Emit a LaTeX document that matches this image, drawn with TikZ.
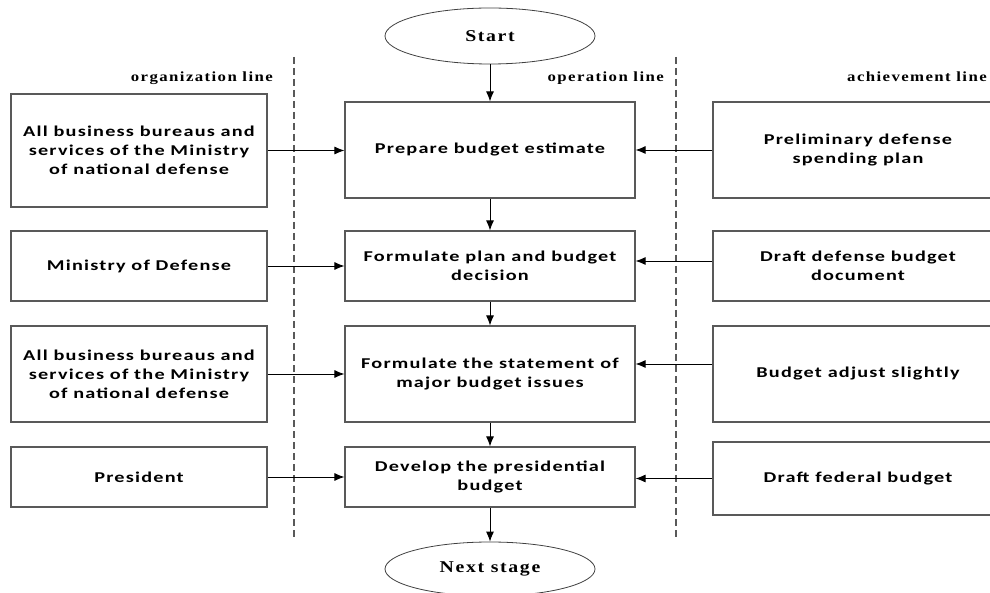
\documentclass[tikz,border=0pt]{standalone}
\usepackage{fontspec}
\newfontfamily\boxfont{Carlito}[FakeStretch=1.35,LetterSpace=8]
\newfontfamily\lanefont{Liberation Serif}[FakeStretch=1.2,LetterSpace=10]
\usetikzlibrary{shapes.geometric,arrows.meta}
\tikzset{
  box/.style={draw=black!65, line width=1.2pt, align=center, inner sep=0pt,
    font={\boxfont\bfseries\fontsize{15}{19}\selectfont}},
  term/.style={ellipse, draw=black!75, line width=0.8pt, inner sep=0pt,
    minimum width=210pt, font={\lanefont\bfseries\fontsize{16.5}{19}\selectfont}},
  lane/.style={inner sep=0pt, font={\lanefont\bfseries\fontsize{14}{16}\selectfont}},
  divider/.style={draw=black!65, line width=1.2pt, dash pattern=on 7pt off 4pt},
  flow/.style={-{Latex[length=10pt,width=8pt]}, line width=0.9pt}
}
\begin{document}
\begin{tikzpicture}[x=1pt,y=-1pt]
     \clip (0,0) rectangle (990,593);
     \node[term,minimum height=56pt] (start) at (490,36){Start};
     \node[term,minimum height=54pt] (next) at (490,569){Next stage};
     \node[lane,anchor=base east] (orgline) at (273,82){organization line};
     \node[lane,anchor=base east] (opline) at (664,82){operation line};
     \node[lane,anchor=base west] (achline) at (847,82){achievement line};
     \coordinate (divLtop) at (294,57);
     \coordinate (divLbot) at (294,540);
     \coordinate (divRtop) at (676,57);
     \coordinate (divRbot) at (676,540);
     \draw[divider] (divLtop) -- (divLbot);
     \draw[divider] (divRtop) -- (divRbot);

     \node[box,minimum width=256pt,minimum height=113pt] (org1) at (139,150.5){All business bureaus and\\services of the Ministry\\of national defense};
     \node[box,minimum width=256pt,minimum height=70pt] (org2) at (139,266){Ministry of Defense};
     \node[box,minimum width=256pt,minimum height=96pt] (org3) at (139,374){All business bureaus and\\services of the Ministry\\of national defense};
     \node[box,minimum width=256pt,minimum height=60pt] (org4) at (139,477){President};

     \node[box,minimum width=290pt,minimum height=96pt] (op1) at (490,150){Prepare budget estimate};
     \node[box,minimum width=290pt,minimum height=70pt] (op2) at (490,266){Formulate plan and budget\\decision};
     \node[box,minimum width=290pt,minimum height=96pt] (op3) at (490,374){Formulate the statement of\\major budget issues};
     \node[box,minimum width=290pt,minimum height=60pt] (op4) at (490,477){Develop the presidential\\budget};

     \node[box,minimum width=290pt,minimum height=96pt] (ach1) at (858,150){Preliminary defense\\spending plan};
     \node[box,minimum width=290pt,minimum height=70pt] (ach2) at (858,266){Draft defense budget\\document};
     \node[box,minimum width=290pt,minimum height=96pt] (ach3) at (858,374){Budget adjust slightly};
     \node[box,minimum width=290pt,minimum height=73pt] (ach4) at (858,478.5){Draft federal budget};

     \draw[flow] (start) -- (op1);
     \draw[flow] (op1) -- (op2);
     \draw[flow] (op2) -- (op3);
     \draw[flow] (op3) -- (op4);
     \draw[flow] (op4) -- (next);
     \draw[flow] (org1.east) -- (org1.east -| op1.west);
     \draw[flow] (org2.east) -- (org2.east -| op2.west);
     \draw[flow] (org3.east) -- (org3.east -| op3.west);
     \draw[flow] (org4.east) -- (org4.east -| op4.west);
     \draw[flow] (ach1.west) -- (ach1.west -| op1.east);
     \draw[flow] ([yshift=5pt]ach2.west) -- ([yshift=5pt]ach2.west -| op2.east);
     \draw[flow] ([yshift=10pt]ach3.west) -- ([yshift=10pt]ach3.west -| op3.east);
     \draw[flow] (ach4.west) -- (ach4.west -| op4.east);
\end{tikzpicture}
\end{document}
